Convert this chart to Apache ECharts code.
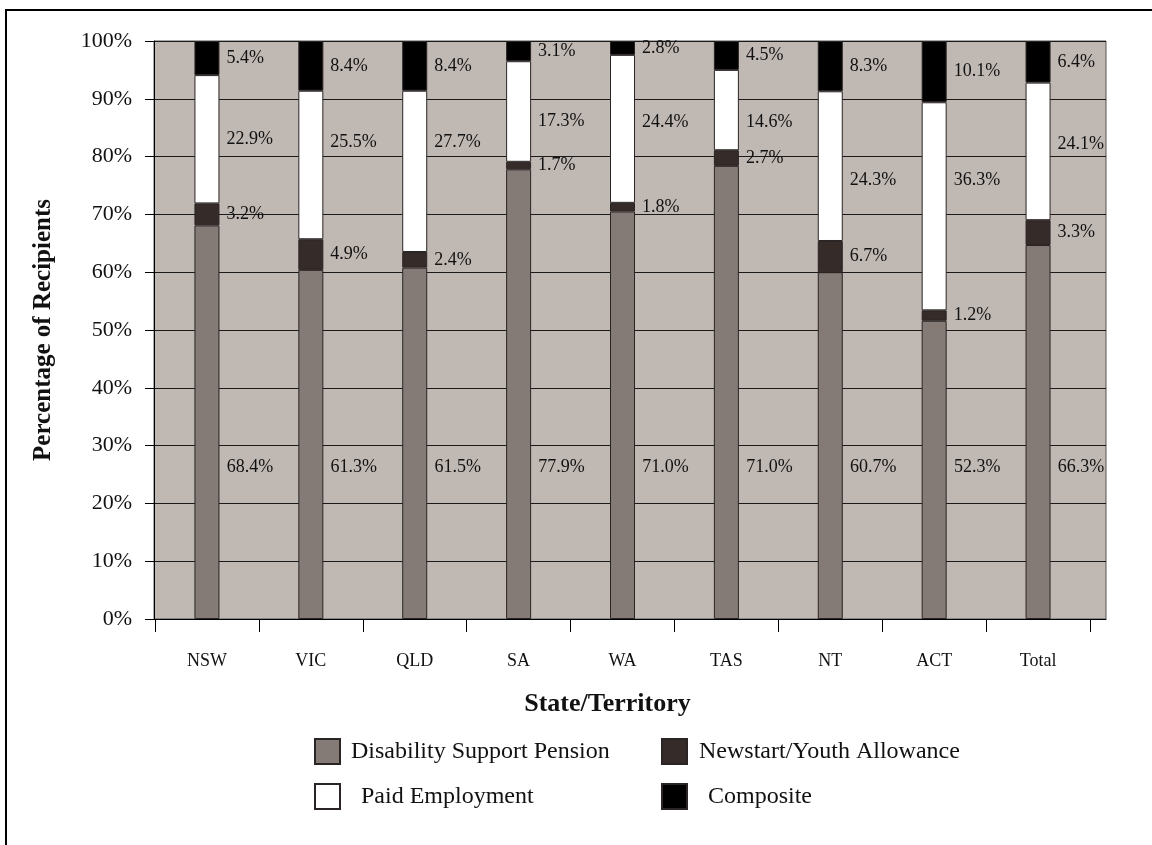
<!DOCTYPE html>
<html>
<head>
<meta charset="utf-8">
<script src="https://cdn.jsdelivr.net/npm/echarts@6/dist/echarts.min.js"></script>
<style>
html,body{margin:0;padding:0;background:#fff;}
#chart{width:1152px;height:845px;}
</style>
</head>
<body>
<div id="chart"></div>
<script>
// ---- data ----
const categories = ['NSW','VIC','QLD','SA','WA','TAS','NT','ACT','Total'];
const dsp  = [68.1, 60.4, 60.8, 77.8, 70.5, 78.4, 60.0, 51.6, 64.7];
const nya  = [3.8, 5.3, 2.7, 1.3, 1.5, 2.7, 5.4, 1.8, 4.3];
const paid = [22.2, 25.7, 27.9, 17.4, 25.6, 13.9, 25.9, 36.0, 23.8];
const comp = [5.9, 8.6, 8.6, 3.5, 2.4, 5.0, 8.7, 10.6, 7.2];
// printed annotation texts
const dspLabels  = ['68.4%','61.3%','61.5%','77.9%','71.0%','71.0%','60.7%','52.3%','66.3%'];
const nyaLabels  = ['3.2%','4.9%','2.4%','1.7%','1.8%','2.7%','6.7%','1.2%','3.3%'];
const paidLabels = ['22.9%','25.5%','27.7%','17.3%','24.4%','14.6%','24.3%','36.3%','24.1%'];
const compLabels = ['5.4%','8.4%','8.4%','3.1%','2.8%','4.5%','8.3%','10.1%','6.4%'];
const yTickLabels = ['0%','10%','20%','30%','40%','50%','60%','70%','80%','90%','100%'];
const seriesNames = ['Disability Support Pension','Newstart/Youth Allowance','Paid Employment','Composite'];

// ---- layout (label nudges, px) ----
const paidLabelShift = [0, -23, -29, 10, -7, 12, 14, -26, -7];

const FONT = "'Liberation Serif','Times New Roman',serif";
const chart = echarts.init(document.getElementById('chart'), null, {renderer:'canvas'});

const labelBase = {show:true, position:'right', distance:7, color:'#111', fontFamily:FONT, fontSize:18};

function mk(name, vals, texts, color, labelExtra, perItem) {
  return {
    name: name, type:'bar', stack:'s', xAxisIndex:1, yAxisIndex:1,
    barWidth:25,
    itemStyle:{color:color, borderColor:'#2a2424', borderWidth:1},
    label:Object.assign({}, labelBase, labelExtra||{}, {formatter:p=>texts[p.dataIndex]}),
    data: vals.map((v,i)=> perItem ? Object.assign({value:v}, perItem(i)) : v)
  };
}

const legendBase = (name, left, top, pad) => ({
  data:[name], left:left, top:top, itemWidth:25, itemHeight:25, orient:'horizontal',
  padding:0, selectedMode:false, icon:'rect',
  textStyle:{fontFamily:FONT, fontSize:24, color:'#111', padding:[0,0,0,pad]}
});

chart.setOption({
  animation:false,
  backgroundColor:'#fff',
  grid:[
    {left:154, top:41, width:952, height:578, show:true, backgroundColor:'#C0B8B3', borderColor:'#555', borderWidth:1},
    {left:155, top:41, width:935, height:578}
  ],
  xAxis:[
    {type:'value', gridIndex:0, min:0, max:1, axisLine:{show:true, onZero:false, lineStyle:{color:'#000', width:1}},
     axisTick:{show:false}, axisLabel:{show:false}, splitLine:{show:false}},
    {type:'category', gridIndex:1, data:categories,
     axisLine:{show:false}, axisTick:{show:true, length:13, interval:0, lineStyle:{color:'#000'}},
     axisLabel:{fontFamily:FONT, fontSize:18, color:'#111', margin:33, interval:0},
     name:'State/Territory', nameLocation:'middle', nameGap:72,
     nameTextStyle:{fontFamily:FONT, fontSize:26, fontWeight:'bold', color:'#111', padding:[0,30,0,0]}}
  ],
  yAxis:[
    {type:'value', gridIndex:0, min:0, max:100, interval:10,
     axisLine:{show:true, lineStyle:{color:'#000'}},
     axisTick:{show:true, length:9, lineStyle:{color:'#000'}},
     axisLabel:{fontFamily:FONT, fontSize:22, color:'#111', margin:22, formatter:(v)=>yTickLabels[Math.round(v/10)]},
     splitLine:{show:true, lineStyle:{color:'#1a1a1a', width:1}},
     name:'Percentage of Recipients', nameLocation:'middle', nameGap:98, nameRotate:90,
     nameTextStyle:{fontFamily:FONT, fontSize:25, fontWeight:'bold', color:'#111'}},
    {type:'value', gridIndex:1, min:0, max:100, show:false}
  ],
  legend:[
    legendBase(seriesNames[0], 314, 738, 6),
    legendBase(seriesNames[1], 661, 738, 7),
    legendBase(seriesNames[2], 314, 783, 16),
    legendBase(seriesNames[3], 661, 783, 16)
  ],
  graphic:[
    {type:'rect', shape:{x:6, y:10, width:1300, height:1000}, style:{fill:null, stroke:'#000', lineWidth:2}, silent:true}
  ],
  series:[
    mk(seriesNames[0], dsp, dspLabels, '#857B76', {position:'insideBottom', distance:5, offset:[43,-138]}),
    mk(seriesNames[1], nya, nyaLabels, '#352B29'),
    mk(seriesNames[2], paid, paidLabels, '#ffffff', null, i=>({label:{offset:[0, paidLabelShift[i]]}})),
    mk(seriesNames[3], comp, compLabels, '#000000')
  ]
});
</script>
</body>
</html>
